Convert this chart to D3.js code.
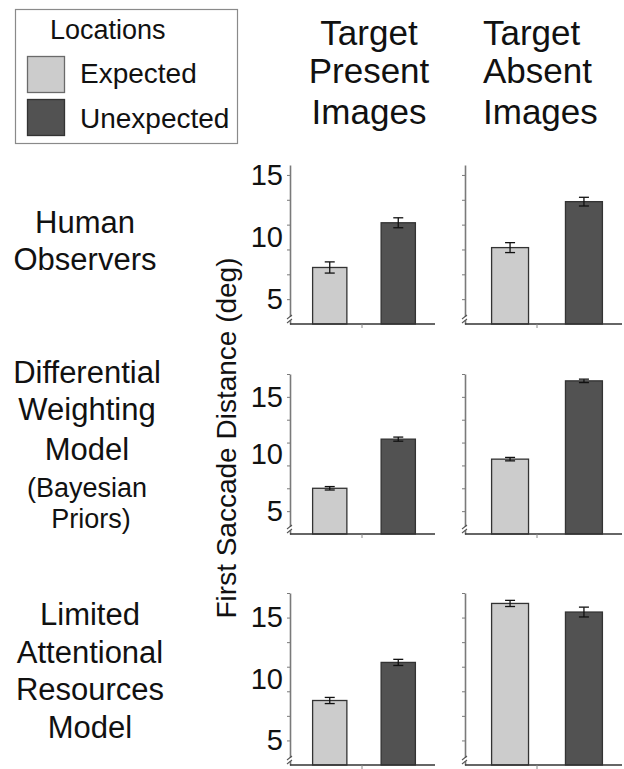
<!DOCTYPE html>
<html>
<head>
<meta charset="utf-8">
<script src="https://cdn.jsdelivr.net/npm/d3@7/dist/d3.min.js"></script>
<style>
  html, body { margin: 0; padding: 0; background: #fff; }
  svg { display: block; font-family: "Liberation Sans", Arial, Helvetica, sans-serif; }
</style>
</head>
<body>
<svg id="chart" width="624" height="769"></svg>
<script>
// ---------- DATA ----------
const categories = ["Expected", "Unexpected"];
const columnTitles = [["Target", "Present", "Images"], ["Target", "Absent", "Images"]];
const rowLabels = [
  ["Human", "Observers"],
  ["Differential", "Weighting", "Model", "(Bayesian", "Priors)"],
  ["Limited", "Attentional", "Resources", "Model"]
];
const yTitle = "First Saccade Distance (deg)";
const legendTitle = "Locations";
const tickLabelValues = [5, 10, 15];

// mean first saccade distance (deg): [row][column] -> [Expected, Unexpected]
const humanPresent = [7.55, 11.15];
const humanAbsent = [9.15, 12.85];
const dwPresent = [7.0, 11.3];
const dwAbsent = [9.55, 16.4];
const larPresent = [8.25, 11.35];
const larAbsent = [16.15, 15.45];
// standard errors
const humanPresentErr = [0.45, 0.4];
const humanAbsentErr = [0.4, 0.35];
const dwPresentErr = [0.15, 0.18];
const dwAbsentErr = [0.15, 0.15];
const larPresentErr = [0.25, 0.25];
const larAbsentErr = [0.25, 0.4];

const values = [[humanPresent, humanAbsent], [dwPresent, dwAbsent], [larPresent, larAbsent]];
const errors = [[humanPresentErr, humanAbsentErr], [dwPresentErr, dwAbsentErr], [larPresentErr, larAbsentErr]];
const yMax = [15.8, 17, 17];
const yMin = 3;

// ---------- LAYOUT ----------
const svg = d3.select("#chart");
const fills = {Expected: "#cccccc", Unexpected: "#525252"};
const rowRanges = [[324, 165], [534, 374], [765, 593]];
const colX = [[290, 438, 435], [465, 629, 622]]; // axis x, band range end, x-axis line end
const outerPad = [0.33, 0.36];
const fontStack = '"Liberation Sans", Arial, sans-serif';

// Legend
const lg = svg.append("g");
lg.append("rect").attr("x", 15.5).attr("y", 9.5).attr("width", 222).attr("height", 134)
  .attr("fill", "none").attr("stroke", "#8a8a8a").attr("stroke-width", 1.2);
lg.append("text").attr("x", 50).attr("y", 39).attr("font-size", 27).attr("fill", "#111").text(legendTitle);
categories.forEach((c, i) => {
  lg.append("rect").attr("x", 27.5).attr("y", 56.5 + i * 43).attr("width", 37).attr("height", 36)
    .attr("fill", fills[c]).attr("stroke", i === 0 ? "#6a6a6a" : "#333").attr("stroke-width", 1.3);
  lg.append("text").attr("x", 80).attr("y", 83 + i * 45).attr("font-size", 28).attr("fill", "#111").text(c);
});

// Column titles
const titleBase = [45, 83, 124];
columnTitles[0].forEach((t, i) => {
  svg.append("text").attr("x", 369).attr("y", titleBase[i]).attr("text-anchor", "middle")
    .attr("font-size", 35).attr("fill", "#111").text(t);
});
columnTitles[1].forEach((t, i) => {
  svg.append("text").attr("x", 483).attr("y", titleBase[i]).attr("text-anchor", "start")
    .attr("font-size", 35).attr("fill", "#111").text(t);
});

// Row labels
const rowBase = [[233, 270], [383, 420, 460, 497, 528], [625, 663, 700, 738]];
const rowCx = [85, 87, 90];
rowLabels.forEach((lines, r) => {
  lines.forEach((t, i) => {
    const small = t.startsWith("(") || t.endsWith(")");
    svg.append("text").attr("x", rowCx[r] + (t === "Priors)" ? 4 : 0)).attr("y", rowBase[r][i])
      .attr("text-anchor", "middle").attr("font-size", small ? 27 : 31).attr("fill", "#111").text(t);
  });
});

// Y title
svg.append("text").attr("transform", "translate(236,438) rotate(-90)")
  .attr("text-anchor", "middle").attr("font-size", 28).attr("fill", "#111").text(yTitle);

// Panels
values.forEach((rowVals, r) => {
  rowVals.forEach((vals, c) => {
    const [ax, bx1, lineEnd] = colX[c];
    const y = d3.scaleLinear().domain([yMin, yMax[r]]).range(rowRanges[r]);
    const x = d3.scaleBand().domain(categories).range([ax, bx1]).paddingInner(0.5).paddingOuter(outerPad[c]);
    const g = svg.append("g");

    // minor ticks every 2 deg
    const tv = d3.range(5, yMax[r] + 0.01, 2);
    const yAxis = g.append("g").attr("transform", `translate(${ax},0)`)
      .call(d3.axisLeft(y).tickValues(tv).tickSize(3).tickSizeOuter(0).tickFormat(""));
    yAxis.select(".domain").attr("stroke", "#7a7a7a").attr("stroke-width", 1.6);
    yAxis.selectAll(".tick line").attr("stroke", "#7a7a7a").attr("stroke-width", 1);

    if (c === 0) {
      const lab = g.append("g").attr("transform", `translate(${ax},0)`)
        .call(d3.axisLeft(y).tickValues(tickLabelValues).tickSize(0).tickPadding(7).tickFormat(d3.format("d")));
      lab.select(".domain").remove();
      lab.selectAll("text").attr("font-size", 29).attr("font-family", fontStack).attr("fill", "#111");
    }

    // break mark
    const yb = y(yMin) - 5;
    g.append("rect").attr("x", ax - 2).attr("y", yb - 2).attr("width", 4).attr("height", 3).attr("fill", "#fff");
    [-2, 2].forEach(o => {
      g.append("line").attr("x1", ax - 3).attr("x2", ax + 2).attr("y1", yb + o + 2).attr("y2", yb + o - 2)
        .attr("stroke", "#555").attr("stroke-width", 1.1);
    });

    // bars
    categories.forEach((cat, i) => {
      g.append("rect").attr("x", x(cat)).attr("y", y(vals[i]))
        .attr("width", x.bandwidth()).attr("height", y(yMin) - y(vals[i]))
        .attr("fill", fills[cat]).attr("stroke", "#333").attr("stroke-width", 1.3);
      const cx = x(cat) + x.bandwidth() / 2;
      const e = errors[r][c][i];
      const eg = g.append("g").attr("stroke", "#111").attr("stroke-width", 1.3);
      eg.append("line").attr("x1", cx).attr("x2", cx).attr("y1", y(vals[i] + e)).attr("y2", y(vals[i] - e));
      [vals[i] + e, vals[i] - e].forEach(v => {
        eg.append("line").attr("x1", cx - 5).attr("x2", cx + 5).attr("y1", y(v)).attr("y2", y(v));
      });
    });

    // x axis
    const base = y(yMin);
    g.append("line").attr("x1", ax).attr("x2", lineEnd).attr("y1", base).attr("y2", base)
      .attr("stroke", "#333").attr("stroke-width", 1.5);
    g.append("line").attr("x1", ax + 72).attr("x2", ax + 72).attr("y1", base).attr("y2", base + 4)
      .attr("stroke", "#888").attr("stroke-width", 1);
  });
});
</script>
</body>
</html>
